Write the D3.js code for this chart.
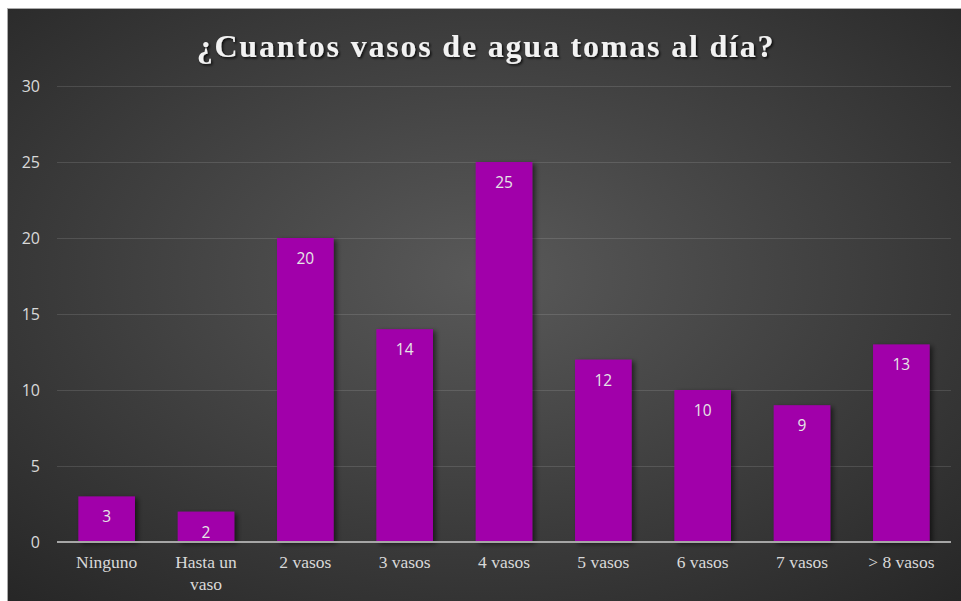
<!DOCTYPE html>
<html>
<head>
<meta charset="utf-8">
<style>
    body { margin: 0; background: #fff; }
    svg { display: block; }
    .y .domain { display: none; }
    .y .tick line { stroke: rgba(255, 255, 255, .12); }
    .y .tick text { font-family: "Open Sans", sans-serif; font-size: 16px; fill: #d9d9d9; }
    .x .domain { display: none; }
    .x .tick line { display: none; }
    .x .tick text { font-family: "Liberation Serif", serif; font-size: 17.5px; fill: #d9d9d9; }
</style>
</head>
<body>
<svg width="961" height="601"></svg>
<script src="https://d3js.org/d3.v7.min.js"></script>
<script>
let categories = ["Ninguno", "Hasta un vaso", "2 vasos", "3 vasos", "4 vasos", "5 vasos", "6 vasos", "7 vasos", "> 8 vasos"];
let values = [3, 2, 20, 14, 25, 12, 10, 9, 13];
let yTicks = [0, 5, 10, 15, 20, 25, 30];
let title = "¿Cuantos vasos de agua tomas al día?";

let width = 961, height = 601;
let margin = { top: 86, right: 10, bottom: 59, left: 57 };

let svg = d3.select("svg");
let defs = svg.append("defs");

let grad = defs.append("radialGradient")
    .attr("id", "bg")
    .attr("cx", "50%").attr("cy", "45%").attr("r", "75%");
grad.append("stop").attr("offset", "0%").attr("stop-color", "#595959");
grad.append("stop").attr("offset", "100%").attr("stop-color", "#262626");

let shadow = defs.append("filter").attr("id", "shadow")
    .attr("x", "-20%").attr("y", "-20%").attr("width", "150%").attr("height", "140%");
shadow.append("feDropShadow")
    .attr("dx", 3).attr("dy", 2).attr("stdDeviation", 2.5)
    .attr("flood-color", "#000").attr("flood-opacity", 0.55);

let tshadow = defs.append("filter").attr("id", "tshadow");
tshadow.append("feDropShadow")
    .attr("dx", 1.5).attr("dy", 1.5).attr("stdDeviation", 1.2)
    .attr("flood-color", "#000").attr("flood-opacity", 0.8);

// page edge + chart frame
svg.append("rect").attr("x", 7).attr("y", 8).attr("width", width - 7).attr("height", height - 8)
    .attr("fill", "#aaa");
svg.append("rect").attr("x", 8).attr("y", 9).attr("width", width - 8).attr("height", height - 9)
    .attr("fill", "url(#bg)");

let x = d3.scaleBand()
    .domain(categories)
    .range([margin.left, width - margin.right])
    .paddingInner(0.43)
    .paddingOuter(0.215);

let y = d3.scaleLinear()
    .domain([0, 30])
    .range([height - margin.bottom, margin.top]);

svg.append("g")
    .attr("class", "y axis")
    .attr("transform", `translate(${margin.left},0)`)
    .call(d3.axisLeft(y).tickValues(yTicks).tickSize(-(width - margin.left - margin.right)).tickPadding(17))
    .call(g => g.selectAll(".tick").filter(d => d === 0).select("line").remove());

svg.append("g")
    .selectAll("rect")
    .data(values)
    .join("rect")
    .attr("x", (d, i) => x(categories[i]))
    .attr("y", d => y(d))
    .attr("width", x.bandwidth())
    .attr("height", d => y(0) - y(d))
    .attr("fill", "#a100aa")
    .attr("filter", "url(#shadow)");

// baseline
svg.append("line")
    .attr("x1", margin.left).attr("x2", width - margin.right)
    .attr("y1", y(0)).attr("y2", y(0))
    .attr("stroke", "#a6a6a6").attr("stroke-width", 2);

svg.append("g")
    .selectAll("text")
    .data(values)
    .join("text")
    .attr("x", (d, i) => x(categories[i]) + x.bandwidth() / 2)
    .attr("y", d => y(d) + 26)
    .attr("text-anchor", "middle")
    .attr("font-family", "Open Sans, sans-serif")
    .attr("font-size", 15.5)
    .attr("fill", "#e6e6e6")
    .text(d => d);

let xAxis = svg.append("g")
    .attr("class", "x axis")
    .attr("transform", `translate(0,${y(0)})`)
    .call(d3.axisBottom(x).tickSize(0).tickPadding(14));

// wrap "Hasta un vaso"
xAxis.selectAll(".tick text").each(function (d) {
    if (d === "Hasta un vaso") {
        let t = d3.select(this);
        t.text(null);
        t.append("tspan").attr("x", 0).attr("dy", "0.71em").text("Hasta un");
        t.append("tspan").attr("x", 0).attr("dy", "1.25em").text("vaso");
        t.attr("dy", null);
    }
});

svg.append("text")
    .attr("x", 486)
    .attr("y", 57)
    .attr("text-anchor", "middle")
    .attr("font-family", "Liberation Serif, serif")
    .attr("font-weight", "bold")
    .attr("font-size", 32)
    .attr("letter-spacing", 1.8)
    .attr("fill", "#f2f2f2")
    .attr("filter", "url(#tshadow)")
    .text(title);
</script>
</body>
</html>
